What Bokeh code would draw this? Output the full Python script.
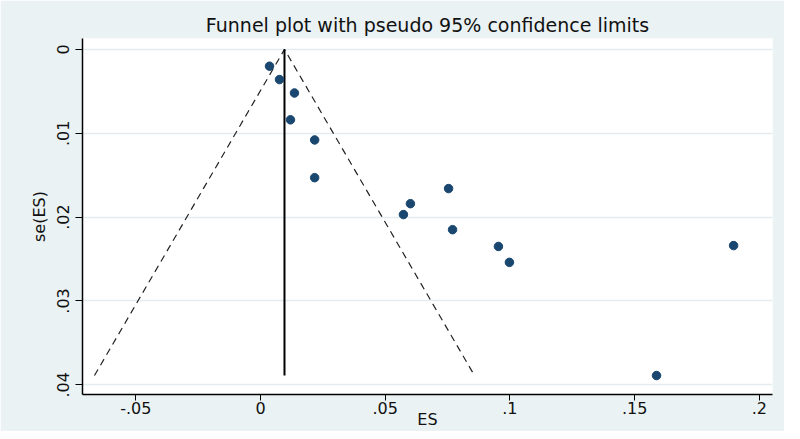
from bokeh.plotting import figure
from bokeh.models import Range1d, FixedTicker
from bokeh.embed import file_html
from bokeh.resources import INLINE

# Study estimates (effect size) and their standard errors
es = [0.0036, 0.0076, 0.0136, 0.0120, 0.0217, 0.0217, 0.0754, 0.0601,
      0.0573, 0.0770, 0.0954, 0.0998, 0.1897, 0.1588]
se = [0.0020, 0.0036, 0.0052, 0.0084, 0.0108, 0.0153, 0.0166, 0.0184,
      0.0197, 0.0215, 0.0235, 0.0254, 0.0234, 0.0389]

# Pooled estimate line and pseudo 95% limits
pooled_x = [0.0096, 0.0096]
pooled_se = [0.0, 0.0389]
funnel_x = [-0.0666, 0.0096, 0.0858]
funnel_se = [0.0389, 0.0, 0.0389]

x_ticks = [-0.05, 0, 0.05, 0.1, 0.15, 0.2]
x_labels = ["-.05", "0", ".05", ".1", ".15", ".2"]
y_ticks = [0, 0.01, 0.02, 0.03, 0.04]
y_labels = ["0", ".01", ".02", ".03", ".04"]

BG = "#EAF2F3"
FONT = "DejaVu Sans"

p = figure(width=784, height=431, output_backend="svg", toolbar_location=None,
           x_range=Range1d(-0.0714, 0.2053), y_range=Range1d(0.04116, -0.0013),
           min_border_left=82, min_border_right=12, min_border_top=38,
           min_border_bottom=35)
p.background_fill_color = "white"
p.border_fill_color = BG
p.outline_line_color = None

p.title.text = "Funnel plot with pseudo 95% confidence limits"
p.title.align = "center"
p.title.text_font = FONT
p.title.text_font_size = "19px"
p.title.text_font_style = "normal"
p.title.text_color = "#111111"
p.title.standoff = 6

p.line(funnel_x, funnel_se, line_color="#222222", line_width=1.2, line_dash="7 5")
p.line(pooled_x, pooled_se, line_color="black", line_width=2)
p.scatter(es, se, size=8.5, marker="circle", fill_color="#1a476f", line_color="#1a476f")

p.xaxis.ticker = FixedTicker(ticks=x_ticks)
p.xaxis.major_label_overrides = {t: l for t, l in zip(x_ticks, x_labels)}
p.yaxis.ticker = FixedTicker(ticks=y_ticks)
p.yaxis.major_label_overrides = {t: l for t, l in zip(y_ticks, y_labels)}
p.yaxis.major_label_orientation = "vertical"

for ax in (p.xaxis, p.yaxis):
    ax.axis_line_color = "black"
    ax.axis_line_width = 1.5
    ax.major_tick_line_color = "black"
    ax.major_tick_in = 0
    ax.minor_tick_line_color = None
    ax.major_label_text_font = FONT
    ax.major_label_text_font_size = "16px"
    ax.major_label_text_color = "#111111"
    ax.axis_label_text_font = FONT
    ax.axis_label_text_font_size = "16px"
    ax.axis_label_text_font_style = "normal"
    ax.axis_label_text_color = "#111111"

p.xaxis.axis_label = "ES"
p.xaxis.major_tick_out = 6
p.xaxis.major_label_standoff = 1
p.xaxis.axis_label_standoff = -7
p.yaxis.axis_label = "se(ES)"
p.yaxis.major_tick_out = 7
p.yaxis.major_label_standoff = 6
p.yaxis.axis_label_standoff = 6

p.xgrid.grid_line_color = None
p.ygrid.grid_line_color = "#E3ECEE"
p.ygrid.grid_line_width = 1.5

open("out.html", "w").write(file_html(p, INLINE))
